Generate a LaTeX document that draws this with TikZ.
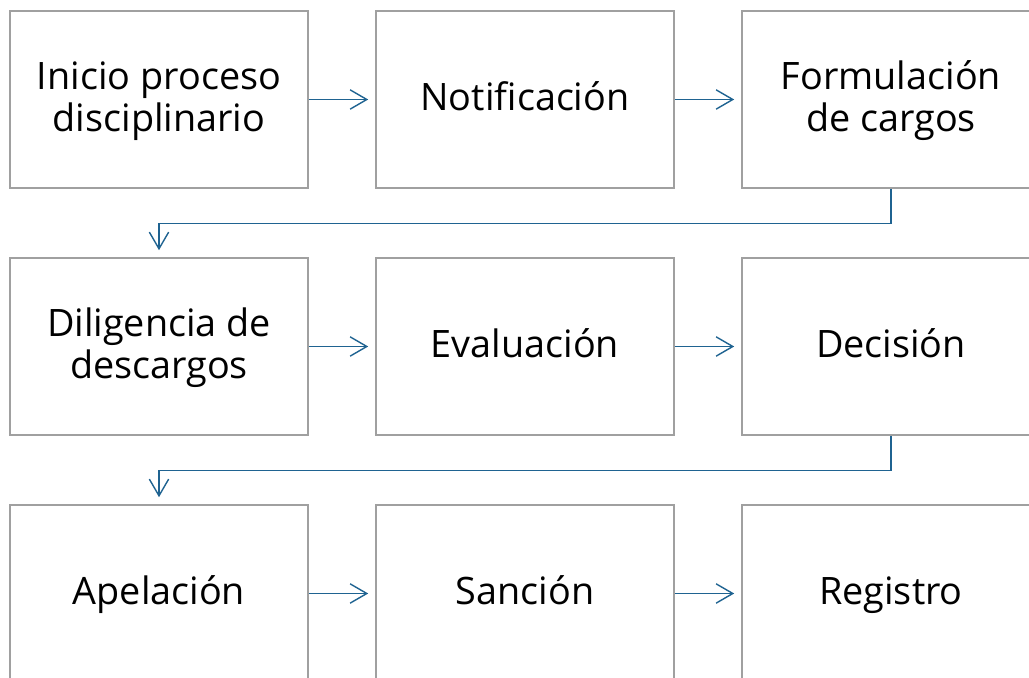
\documentclass[tikz,border=0pt]{standalone}
\usepackage{fontspec}
\setmainfont{Open Sans}
\usetikzlibrary{arrows.meta}
\definecolor{boxgray}{HTML}{A0A0A0}
\definecolor{flowblue}{HTML}{1F6391}

\tikzset{
  stage/.style={draw=boxgray, line width=0.9pt, minimum width=5.96cm, minimum height=3.54cm,
    align=center, font=\fontsize{21.5}{24}\selectfont, text height=42pt, text depth=5pt},
  oneline/.style={stage, text height=18pt, text depth=5pt},
  flow/.style={draw=flowblue, line width=0.8pt, -{Straight Barb[length=9.5pt,width=11pt]}, shorten >=4pt}
}

\begin{document}
\begin{tikzpicture}[x=0.02cm,y=-0.02cm]
\useasboundingbox (0,0) rectangle (1029,678);
\clip (0,0) rectangle (1029,678);
% first row
\node[stage] (inicio) at (159,99.5) {Inicio proceso\\disciplinario};
\node[oneline] (notif) at (525,99.5) {Notificación};
\node[stage] (cargos) at (891,99.5) {Formulación\\de cargos};
% second row
\node[stage] (descargos) at (159,346.5) {Diligencia de\\descargos};
\node[oneline] (eval) at (525,346.5) {Evaluación};
\node[oneline] (decision) at (891,346.5) {Decisión};
% third row
\node[oneline] (apelacion) at (159,593.5) {Apelación};
\node[oneline] (sancion) at (525,593.5) {Sanción};
\node[oneline] (registro) at (891,593.5) {Registro};

\draw[flow] (inicio) -- (notif);
\draw[flow] (notif) -- (cargos);
\draw[flow] (cargos.south) -- ++(0,35) -| (descargos.north);
\draw[flow] (descargos) -- (eval);
\draw[flow] (eval) -- (decision);
\draw[flow] (decision.south) -- ++(0,35) -| (apelacion.north);
\draw[flow] (apelacion) -- (sancion);
\draw[flow] (sancion) -- (registro);
\end{tikzpicture}
\end{document}
